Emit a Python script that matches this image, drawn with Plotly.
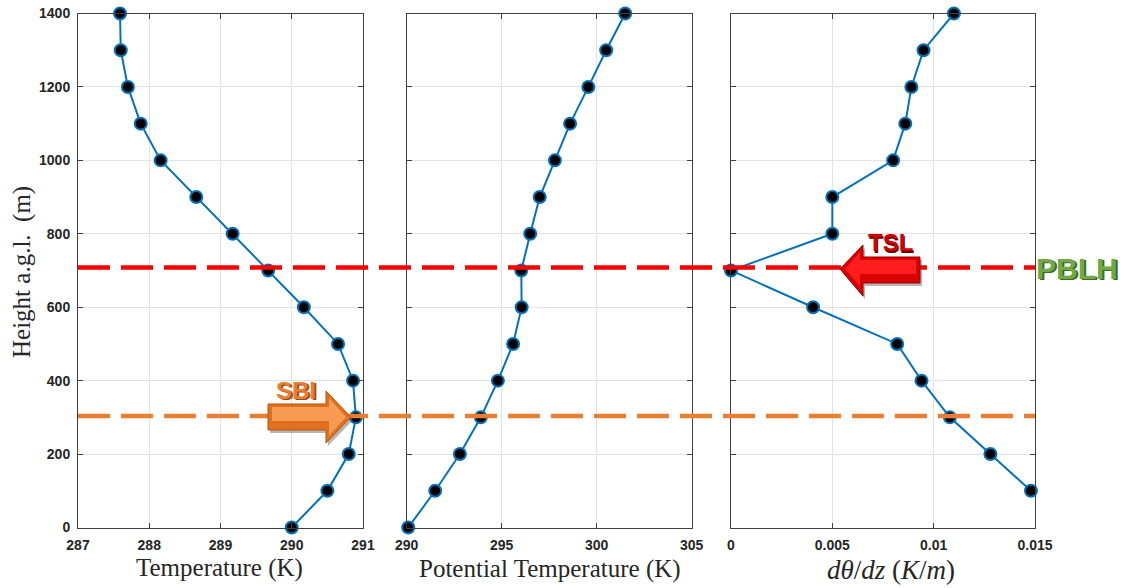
import plotly.graph_objects as go

# ---------------- data ----------------
heights = [0, 100, 200, 300, 400, 500, 600, 700, 800, 900, 1000, 1100, 1200, 1300, 1400]
temperature = [290.0, 290.5, 290.8, 290.9, 290.86, 290.65, 290.17, 289.67, 289.17,
               288.66, 288.16, 287.88, 287.70, 287.60, 287.59]
potential_temperature = [290.08, 291.5, 292.8, 293.9, 294.8, 295.6, 296.05, 296.03, 296.5,
                         297.0, 297.8, 298.6, 299.56, 300.5, 301.5]
grad_heights = [100, 200, 300, 400, 500, 600, 700, 800, 900, 1000, 1100, 1200, 1300, 1400]
dtheta_dz = [0.0148, 0.0128, 0.0108, 0.0094, 0.0082, 0.00405, 0.0, 0.0050, 0.0050,
             0.0080, 0.0086, 0.0089, 0.0095, 0.0110]
pblh_height = 708
sbi_height = 304

W, H = 1128, 588
BLUE = "#0072BD"
AX = "#404040"
GRID = "#e3e3e3"


def px(x):
    return x / W


def py(y):
    return 1 - y / H


fig = go.Figure()
for i, (xs, ys) in enumerate([(temperature, heights),
                              (potential_temperature, heights),
                              (dtheta_dz, grad_heights)]):
    suf = "" if i == 0 else str(i + 1)
    fig.add_trace(go.Scatter(
        x=xs, y=ys, xaxis="x" + suf, yaxis="y" + suf, mode="lines+markers",
        line=dict(color=BLUE, width=2),
        marker=dict(size=12, color="black", line=dict(color=BLUE, width=2)),
        cliponaxis=False, showlegend=False, hoverinfo="skip"))

ydom = [py(527.5), py(13.5)]
xdoms = [[px(78), px(363)], [px(406.7), px(691.7)], [px(731), px(1035)]]
xranges = [[287, 291], [290, 305], [0, 0.015]]
xdticks = [1, 5, 0.005]

tickfont = dict(family="Liberation Sans, Arial, sans-serif", size=14, color="#262626", weight="bold")
common = dict(showline=True, linecolor=AX, linewidth=1, mirror="ticks", ticks="inside",
              ticklen=5, tickcolor=AX, showgrid=True, gridcolor=GRID, gridwidth=1,
              zeroline=False, automargin=False, tickfont=tickfont, fixedrange=True)

layout = dict(width=W, height=H, margin=dict(l=0, r=0, t=0, b=0),
              paper_bgcolor="white", plot_bgcolor="white", template="none")
for i in range(3):
    suf = "" if i == 0 else str(i + 1)
    layout["xaxis" + suf] = dict(domain=xdoms[i], range=xranges[i], dtick=xdticks[i], tick0=0,
                                 anchor="y" + suf, ticklabelstandoff=5, **common)
    layout["yaxis" + suf] = dict(domain=ydom, range=[0, 1400], dtick=200, anchor="x" + suf,
                                 showticklabels=(i == 0), ticklabelstandoff=4, **common)
fig.update_layout(**layout)

# ---------------- dashed reference lines ----------------
fig.add_shape(type="line", xref="paper", yref="y", x0=px(78), x1=px(1035),
              y0=pblh_height, y1=pblh_height,
              line=dict(color="#FF0000", width=4.5, dash="32px,11px"))
fig.add_shape(type="line", xref="paper", yref="y", x0=px(78), x1=px(1035),
              y0=sbi_height, y1=sbi_height,
              line=dict(color="#ED7D31", width=4.5, dash="32px,11px"))


def poly(pts):
    return "M " + " L ".join(f"{px(a):.5f},{py(b):.5f}" for a, b in pts) + " Z"


# SBI arrow (pointing right)
sbi = [(268, 404), (326, 404), (326, 391), (351, 417), (326, 443), (326, 430), (268, 430)]
sbi_shadow = [(a + 2, b + 3) for a, b in sbi]
sbi_in = [(272, 407), (329, 407), (329, 398), (346, 417), (329, 436), (329, 421), (272, 421)]
fig.add_shape(type="path", xref="paper", yref="paper", path=poly(sbi_shadow),
              fillcolor="rgba(90,90,90,0.45)", line=dict(width=0))
fig.add_shape(type="path", xref="paper", yref="paper", path=poly(sbi),
              fillcolor="#E0701F", line=dict(color="#B8560F", width=1))
fig.add_shape(type="path", xref="paper", yref="paper", path=poly(sbi_in),
              fillcolor="#F79A52", line=dict(width=0))

# TSL arrow (pointing left)
tsl = [(920, 257), (863, 257), (863, 245), (840, 269), (863, 296), (863, 283), (920, 283)]
tsl_shadow = [(a + 2, b + 3) for a, b in tsl]
tsl_in = [(916, 260), (860, 260), (860, 252), (845, 269), (860, 286), (860, 274), (916, 274)]
fig.add_shape(type="path", xref="paper", yref="paper", path=poly(tsl_shadow),
              fillcolor="rgba(90,90,90,0.45)", line=dict(width=0))
fig.add_shape(type="path", xref="paper", yref="paper", path=poly(tsl),
              fillcolor="#D80000", line=dict(color="#9A0000", width=1))
fig.add_shape(type="path", xref="paper", yref="paper", path=poly(tsl_in),
              fillcolor="#FF1E1E", line=dict(width=0))

# ---------------- labels ----------------
def label(text, x, y, size, color, shadow=None, family="Liberation Sans, Arial, sans-serif",
          bold=True, angle=0):
    if shadow:
        fig.add_annotation(text=text, x=px(x + 1.5), y=py(y + 1.5), xref="paper", yref="paper",
                           showarrow=False, xanchor="center", yanchor="middle", textangle=angle,
                           font=dict(family=family, size=size, color=shadow,
                                     weight="bold" if bold else "normal"))
    fig.add_annotation(text=text, x=px(x), y=py(y), xref="paper", yref="paper",
                       showarrow=False, xanchor="center", yanchor="middle", textangle=angle,
                       font=dict(family=family, size=size, color=color,
                                 weight="bold" if bold else "normal"))


label("SBI", 296, 390, 24, "#ED7D31", shadow="#9C4A12")
label("TSL", 890, 243, 24, "#D00000", shadow="#6A0000")
label("PBLH", 1077, 268, 30, "#6FAA45", shadow="#3E6A25")

serif = "Liberation Serif, Times New Roman, serif"
label("Temperature (K)", 219, 568, 25, "#262626", family=serif, bold=False)
label("Potential Temperature (K)", 550, 569, 25, "#262626", family=serif, bold=False)
label("<i>dθ</i>/<i>dz</i> (<i>K</i>/<i>m</i>)", 891, 570, 27, "#262626", family=serif, bold=False)
label("Height a.g.l.  (m)", 22, 272, 25, "#262626", family=serif, bold=False, angle=-90)

fig.write_html("out.html", config={"displayModeBar": False},
               post_script="document.body.style.margin='0px';")
